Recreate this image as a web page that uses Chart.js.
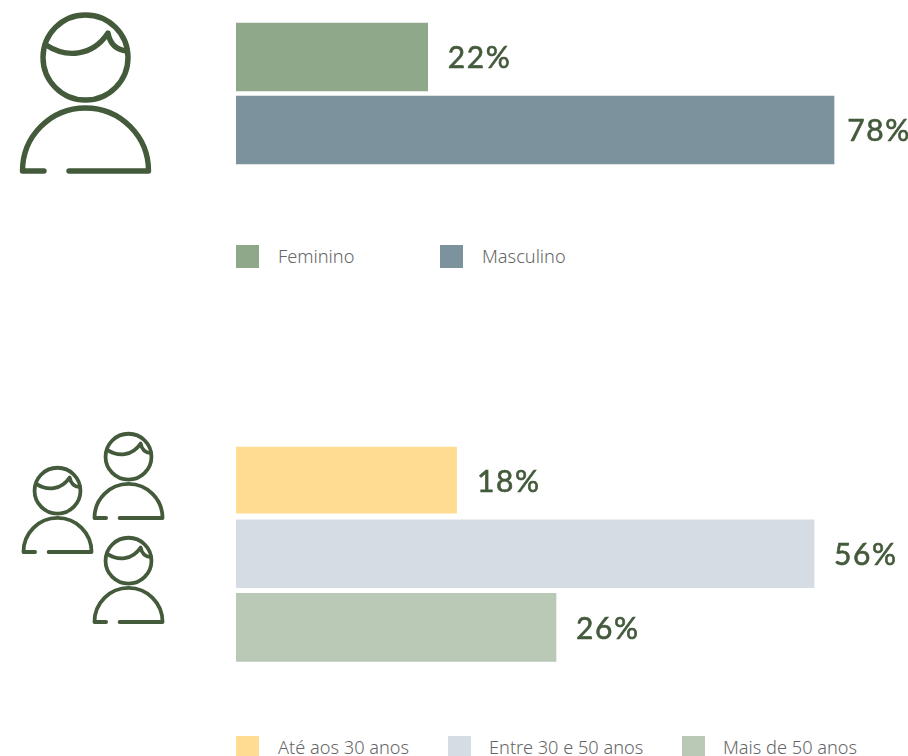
<!DOCTYPE html>
<html><head><meta charset="utf-8">
<script src="https://cdn.jsdelivr.net/npm/chart.js@4"></script>
<style>
html,body{margin:0;padding:0;background:#fff;width:908px;height:756px;overflow:hidden}
canvas{position:absolute;left:0}
#wrap1{position:absolute;left:0;top:0;width:908px;height:187px}
#wrap2{position:absolute;left:0;top:423px;width:908px;height:262px}
svg{position:absolute;left:0;top:0}
.sq{position:absolute;width:23px;height:23px}
.lb{position:absolute;font:300 18.2px "Noto Sans",sans-serif;color:#666;line-height:23px;white-space:nowrap}
</style></head><body>
<svg width="908" height="756" fill="none" stroke="#435A3B" stroke-linecap="round" stroke-linejoin="round">
<defs><g id="person">
<circle cx="85.5" cy="57.5" r="42.5"/>
<path d="M46 45C66 58 92 57 108 33C110 44 116 50 127 51"/>
<path d="M44 171H22.5A63 63 0 0 1 148.5 171H69"/>
</g></defs>
<use href="#person" stroke-width="5.4"/>
<use href="#person" stroke-width="7" transform="translate(128.5 456.7) scale(.54) translate(-85.5 -57.5)"/>
<use href="#person" stroke-width="7" transform="translate(57.5 490.7) scale(.54) translate(-85.5 -57.5)"/>
<use href="#person" stroke-width="7" transform="translate(128.5 560.7) scale(.54) translate(-85.5 -57.5)"/>
</svg>
<div id="wrap1"><canvas id="c1"></canvas></div>
<div id="wrap2"><canvas id="c2"></canvas></div>
<div id="legend"></div>
<script>
// Gender block
const genderCategories = ["Feminino", "Masculino"];
const genderLabels = [22, 78];           // printed percentages
const genderBarLengths = [25, 78];       // bar lengths as drawn in the picture
const genderColors = ["#8FA88A", "#7C939D"];
const genderAxisMax = 87.65;
// Age block
const ageCategories = ["Até aos 30 anos", "Entre 30 e 50 anos", "Mais de 50 anos"];
const ageLabels = [18, 56, 26];
const ageBarLengths = [21.4, 56, 31];
const ageColors = ["#FFDC91", "#D5DCE3", "#BAC9B6"];
const ageAxisMax = 65.1;

const labelPlugin = {
  id: "valueLabels",
  afterDatasetsDraw(chart, args, opts) {
    const ctx = chart.ctx, meta = chart.getDatasetMeta(0);
    ctx.save();
    ctx.font = '400 30px Lato, sans-serif';
    ctx.letterSpacing = '1.6px';
    ctx.fillStyle = '#435A3B';
    ctx.strokeStyle = '#435A3B';
    ctx.lineWidth = 0.6;
    ctx.textBaseline = 'middle';
    meta.data.forEach((bar, i) => {
      const t = opts.labels[i] + '%';
      const x = Math.min(bar.x + 20, chart.width + 3 - ctx.measureText(t).width);
      ctx.fillText(t, x, bar.y + opts.dy);
      ctx.strokeText(t, x, bar.y + opts.dy);
    });
    ctx.restore();
  }
};
function makeChart(id, cats, vals, labels, colors, max, pad, dy, borders) {
  return new Chart(document.getElementById(id), {
    type: 'bar',
    plugins: [labelPlugin],
    data: { labels: cats, datasets: [{ data: vals, backgroundColor: colors, barThickness: 68, borderWidth: borders, borderColor: '#fff', borderSkipped: false }] },
    options: {
      indexAxis: 'y', responsive: true, maintainAspectRatio: false, animation: false,
      layout: { padding: pad },
      scales: {
        x: { display: false, min: 0, max: max },
        y: { display: false }
      },
      plugins: { legend: { display: false }, tooltip: { enabled: false }, valueLabels: { labels, dy } }
    }
  });
}
makeChart('c1', genderCategories, genderBarLengths, genderLabels, genderColors, genderAxisMax, { left: 236, top: 20.5, bottom: 20.5, right: 0 }, 1, 0);
makeChart('c2', ageCategories, ageBarLengths, ageLabels, ageColors, ageAxisMax, { left: 236, top: 20.2, bottom: 20.7, right: 0 }, 2,
  [{top:1,bottom:1,left:0,right:0}, 0, 0]);

const legend = document.getElementById('legend');
function addLegend(cats, colors, y, sqX, txtX) {
  cats.forEach((c, i) => {
    const s = document.createElement('div'); s.className = 'sq';
    s.style.cssText = `left:${sqX[i]}px;top:${y}px;background:${colors[i]}`;
    const l = document.createElement('div'); l.className = 'lb'; l.textContent = c;
    l.style.cssText = `left:${txtX[i]}px;top:${y}px`;
    legend.append(s, l);
  });
}
addLegend(genderCategories, genderColors, 245, [236, 440], [278, 482]);
addLegend(ageCategories, ageColors, 736, [236, 448, 682], [278, 489, 723]);
</script>
</body></html>
